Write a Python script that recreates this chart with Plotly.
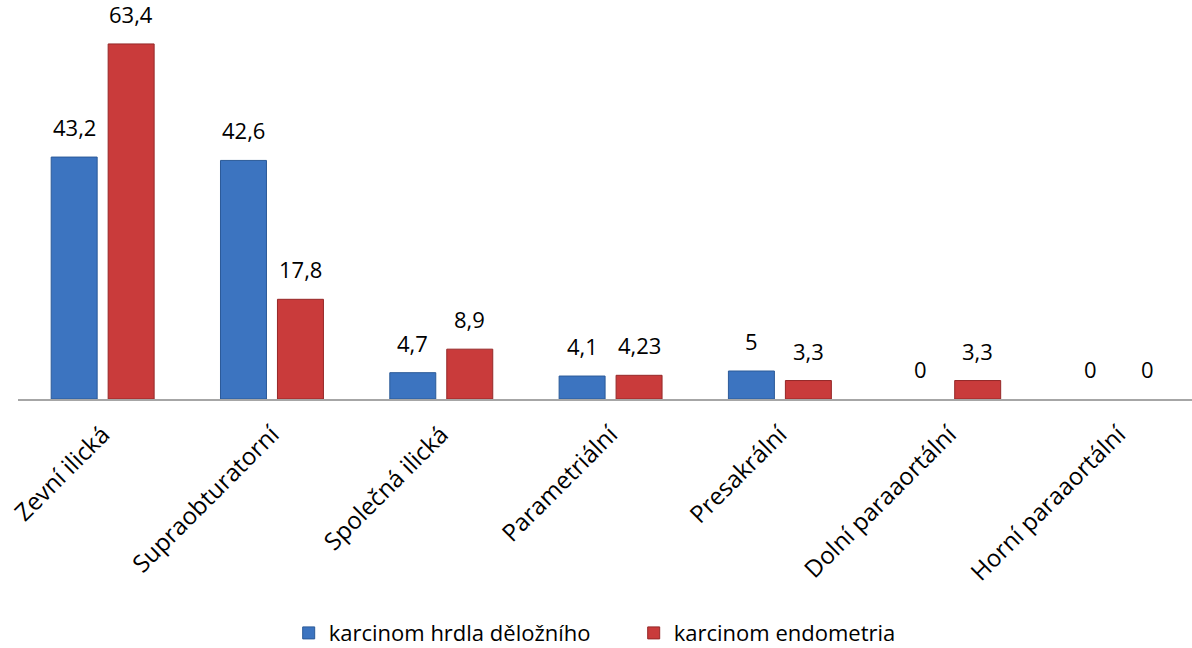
import plotly.graph_objects as go

categories = [
    "Zevní ilická",
    "Supraobturatorní",
    "Společná ilická",
    "Parametriální",
    "Presakrální",
    "Dolní paraaortální",
    "Horní paraaortální",
]
cervix_values = [43.2, 42.6, 4.7, 4.1, 5, 0, 0]
endometrium_values = [63.4, 17.8, 8.9, 4.23, 3.3, 3.3, 0]
series_names = ["karcinom hrdla děložního", "karcinom endometria"]


def fmt(v):
    return str(v).replace(".", ",")


FONT = "Open Sans"
BLUE, BLUE_EDGE = "#3C74C0", "#2B5A98"
RED, RED_EDGE = "#C93B3B", "#952828"

fig = go.Figure()
for values, name, fill, edge in (
    (cervix_values, series_names[0], BLUE, BLUE_EDGE),
    (endometrium_values, series_names[1], RED, RED_EDGE),
):
    fig.add_trace(go.Bar(
        x=categories, y=values, name=name,
        marker=dict(
            color=fill,
            # no outline on empty bars so nothing is drawn for zeros
            line=dict(color=edge, width=[1 if v > 0 else 0 for v in values]),
        ),
    ))

# value labels above each bar (pixel offset to the grouped bar centre)
annotations = []
for values, dx in ((cervix_values, -28.5), (endometrium_values, 28.5)):
    for cat, v in zip(categories, values):
        annotations.append(dict(
            x=cat, y=v, xref="x", yref="y", text=fmt(v), showarrow=False,
            xshift=dx, yshift=13, yanchor="bottom",
            font=dict(family=FONT, size=22, color="#000000"),
        ))

fig.update_layout(
    width=1192, height=648,
    margin=dict(l=18, r=0, t=10, b=249, autoexpand=False),
    paper_bgcolor="white", plot_bgcolor="white",
    barmode="group", bargap=0.327, bargroupgap=0.193,
    font=dict(family=FONT, size=22, color="#000000"),
    showlegend=True,
    legend=dict(
        orientation="h", xref="container", x=0.2422, xanchor="left",
        yref="container", y=0.023, yanchor="middle",
        font=dict(family=FONT, size=22), itemwidth=30,
        entrywidth=300,
    ),
    xaxis=dict(
        range=[-0.5, 6.434], tickangle=-45, showline=True,
        linecolor="#A6A6A6", linewidth=2, ticks="", showgrid=False,
        tickfont=dict(family=FONT, size=24), automargin=False,
        ticklabelstandoff=10,
    ),
    yaxis=dict(
        range=[0, 69.46], visible=False, showgrid=False, zeroline=False,
        automargin=False,
    ),
    annotations=annotations,
)

fig.write_html("out.html")
